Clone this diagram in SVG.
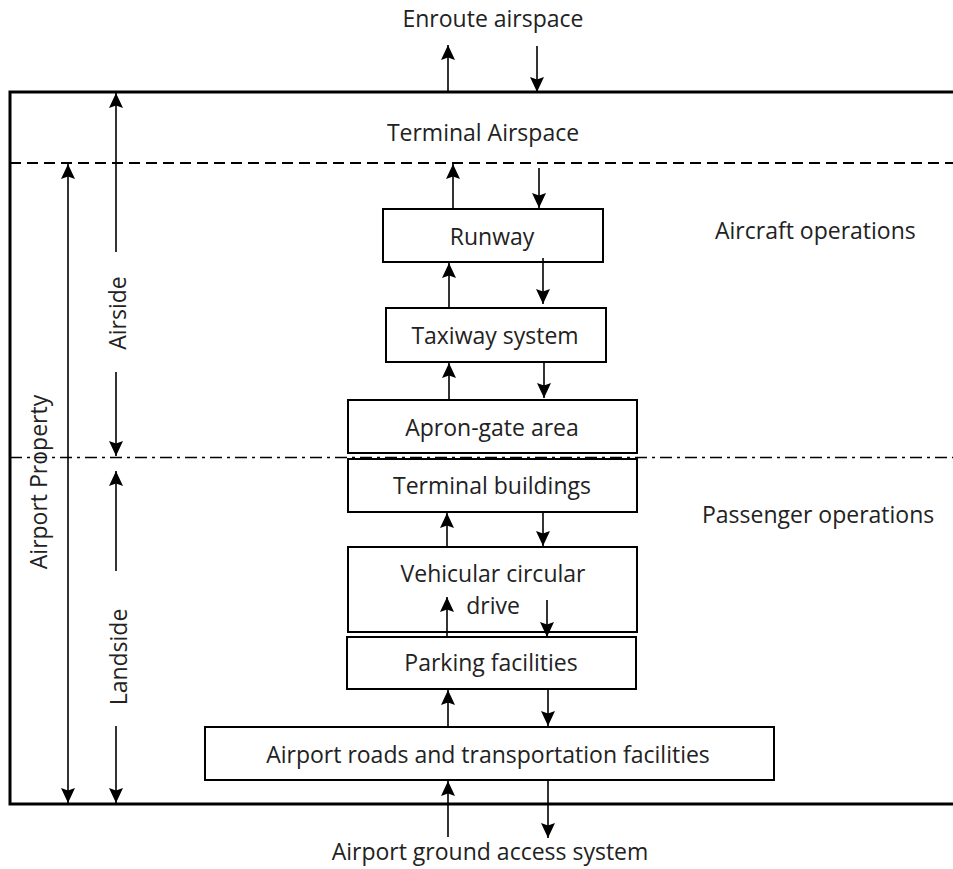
<svg xmlns="http://www.w3.org/2000/svg" width="953" height="869" viewBox="0 0 953 869">
  <style>
    .lbl { font-family: "Open Sans", "Noto Sans", "Liberation Sans", sans-serif; font-size: 23px; fill: #222; }
    .mid { text-anchor: middle; }
    .box { fill: #fff; stroke: #000; stroke-width: 2; }
    .frame { fill: none; stroke: #000; stroke-width: 3; }
    .arr { fill: none; stroke: #000; stroke-width: 1.6; marker-end: url(#head); }
    .dbl { fill: none; stroke: #000; stroke-width: 1.6; marker-start: url(#head); marker-end: url(#head); }
    .dash { fill: none; stroke: #000; stroke-width: 1.8; stroke-dasharray: 11 6; }
    .dashdot { fill: none; stroke: #000; stroke-width: 1.6; stroke-dasharray: 12 5 3 5; }
  </style>
  <defs>
    <marker id="head" markerUnits="userSpaceOnUse" markerWidth="16" markerHeight="16" viewBox="0 -8 16 16" refX="15" refY="0" orient="auto-start-reverse">
      <path d="M0,-7 L15,0 L0,7 L2.5,0 Z" fill="#000"/>
    </marker>
  </defs>

  <!-- boundaries -->
  <g id="boundaries">
    <line class="dash" x1="10" y1="163" x2="953" y2="163"/>
    <line class="dashdot" x1="10" y1="457.5" x2="953" y2="457.5"/>
    <path class="frame" d="M953,92 H10 V804 H953"/>
  </g>

  <!-- side labels and extents -->
  <g id="extents">
    <line class="dbl" x1="68" y1="164" x2="68" y2="803"/>
    <text class="lbl mid" transform="rotate(-90 47 482)" x="47" y="482">Airport Property</text>

    <line class="arr" x1="116" y1="252" x2="116" y2="93"/>
    <line class="arr" x1="116" y1="372" x2="116" y2="456"/>
    <text class="lbl mid" transform="rotate(-90 126 313)" x="126" y="313">Airside</text>

    <line class="arr" x1="116" y1="571" x2="116" y2="471"/>
    <line class="arr" x1="116" y1="726" x2="116" y2="803"/>
    <text class="lbl mid" transform="rotate(-90 127 657)" x="127" y="657">Landside</text>
  </g>

  <!-- zone labels -->
  <g id="zones">
    <text class="lbl mid" x="493" y="27">Enroute airspace</text>
    <text class="lbl mid" x="483" y="141">Terminal Airspace</text>
    <text class="lbl" x="715" y="239">Aircraft operations</text>
    <text class="lbl" x="702" y="523">Passenger operations</text>
    <text class="lbl mid" x="490" y="860">Airport ground access system</text>
  </g>

  <!-- facility nodes -->
  <g id="runway">
    <rect class="box" x="383" y="209" width="220" height="53"/>
    <text class="lbl mid" x="492" y="245">Runway</text>
  </g>
  <g id="taxiway">
    <rect class="box" x="386" y="308" width="220" height="54"/>
    <text class="lbl mid" x="495" y="344">Taxiway system</text>
  </g>
  <g id="apron">
    <rect class="box" x="348" y="400" width="289" height="53"/>
    <text class="lbl mid" x="492" y="436">Apron-gate area</text>
  </g>
  <g id="terminal">
    <rect class="box" x="348" y="459" width="289" height="53"/>
    <text class="lbl mid" x="492" y="494">Terminal buildings</text>
  </g>
  <g id="circular-drive">
    <rect class="box" x="348" y="547" width="289" height="85"/>
    <text class="lbl mid" x="493" y="582">Vehicular circular</text>
    <text class="lbl mid" x="493" y="614">drive</text>
  </g>
  <g id="parking">
    <rect class="box" x="347" y="637" width="289" height="52"/>
    <text class="lbl mid" x="491" y="671">Parking facilities</text>
  </g>
  <g id="roads">
    <rect class="box" x="205" y="727" width="569" height="53"/>
    <text class="lbl mid" x="488" y="763">Airport roads and transportation facilities</text>
  </g>

  <!-- flow connectors -->
  <g id="connectors">
    <line class="arr" x1="448" y1="92" x2="448" y2="45"/>
    <line class="arr" x1="537" y1="46" x2="537" y2="92"/>

    <line class="arr" x1="453" y1="209" x2="453" y2="164"/>
    <line class="arr" x1="539" y1="168" x2="539" y2="208"/>

    <line class="arr" x1="449" y1="308" x2="449" y2="263"/>
    <line class="arr" x1="543" y1="258" x2="543" y2="304"/>

    <line class="arr" x1="449" y1="400" x2="449" y2="363"/>
    <line class="arr" x1="544" y1="362" x2="544" y2="398"/>

    <line class="arr" x1="447" y1="547" x2="447" y2="513"/>
    <line class="arr" x1="543" y1="512" x2="543" y2="546"/>

    <line class="arr" x1="447" y1="637" x2="447" y2="597"/>
    <line class="arr" x1="547" y1="600" x2="547" y2="637"/>

    <line class="arr" x1="448" y1="727" x2="448" y2="690"/>
    <line class="arr" x1="548" y1="689" x2="548" y2="726"/>

    <line class="arr" x1="448" y1="837" x2="448" y2="781"/>
    <line class="arr" x1="548" y1="780" x2="548" y2="838"/>
  </g>
</svg>
